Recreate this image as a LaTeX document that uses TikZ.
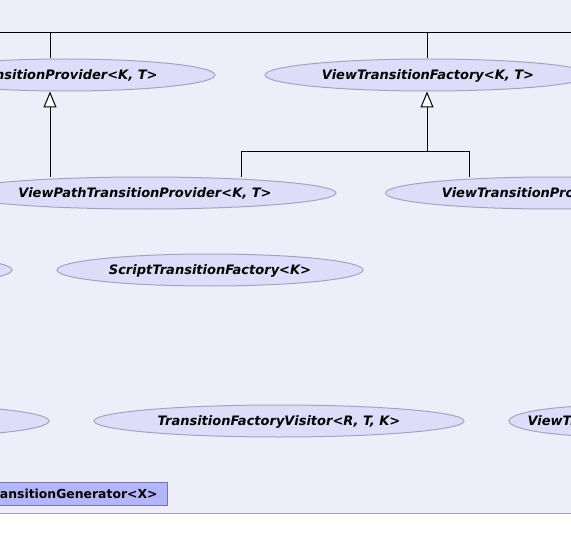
\documentclass[tikz,border=0pt]{standalone}
\usepackage{fontspec}
\setmainfont{DejaVu Sans}
\usepackage{tikz}
\usetikzlibrary{positioning, shapes, arrows.meta, calc}
\definecolor{pkg-bg}{RGB}{238,238,251}
\definecolor{pkg-line}{RGB}{165,165,185}
\definecolor{uc-fill}{RGB}{221,221,250}
\definecolor{uc-line}{RGB}{163,163,191}
\definecolor{cls-fill}{RGB}{181,181,249}
\definecolor{cls-line}{RGB}{118,118,168}

\begin{document}
\begin{tikzpicture}[x=1pt, y=-1pt, line width=1pt]
      \tikzset{ uc/.style  ={draw=uc-line,  ellipse,   minimum height=32pt, inner sep=0pt,  fill=uc-fill,  text=black, text height=9.4pt, text depth=0pt, font=\fontsize{13}{15}\selectfont\bfseries\itshape} }
      \tikzset{ lbl/.style ={               rectangle,                      inner sep=0pt,                  text=black, text height=9.4pt, text depth=0pt, font=\fontsize{13}{15}\selectfont\bfseries\itshape} }
      \tikzset{ cls/.style ={draw=cls-line, rectangle, minimum height=23pt, inner xsep=10pt, fill=cls-fill, text=black, text height=9pt,   text depth=0pt, font=\fontsize{12.4}{15}\selectfont\bfseries} }

      \useasboundingbox (0,0) rectangle (571,551);
      \clip (0,0) rectangle (571,551);
      \fill[pkg-bg] (0,0) rectangle (571,513);
      \draw[pkg-line] (0,513) -- (571,513);

      \node[uc, minimum width=300pt] (l0_n0)  at (  65,  75) {TransitionProvider<K, T>};
      \node[uc, minimum width=326pt] (l0_n1)  at ( 428,  75) {ViewTransitionFactory<K, T>};

      \node[uc, minimum width=382pt] (l1_n0)  at ( 145, 193) {ViewPathTransitionProvider<K, T>};
      \node[uc, minimum width=333pt] (l1_n1)  at ( 552, 193) {ViewTransitionProvider<K, T>};

      \node[uc, minimum width=300pt] (l2_n0)  at (-138, 270) {};
      \node[uc, minimum width=306pt] (l2_n1)  at ( 210, 270) {ScriptTransitionFactory<K>};

      \node[uc, minimum width=300pt] (l3_n0)  at (-101, 421) {};
      \node[uc, minimum width=370pt] (l3_n1)  at ( 279, 421) {TransitionFactoryVisitor<R, T, K>};
      \node[uc, minimum width=220pt] (l3_n2)  at ( 619, 421) {};
      \node[lbl, anchor=west]        (l3_t2)  at ( 527, 421) {ViewTransition};

      \node[cls, anchor=east]        (l4_n0)  at ( 168, 494) {TransitionGenerator<X>};

      \coordinate (bar_w) at (  0,  33);
      \coordinate (bar_e) at (571,  33);
      \coordinate (j0)    at ( 50,  33);
      \coordinate (j1)    at (427,  33);
      \coordinate (split) at (427, 151);

      \draw (bar_w) -- (bar_e);
      \draw (j0) -- (j0 |- l0_n0.north);
      \draw (j1) -- (j1 |- l0_n1.north);

      \draw[-{Triangle[length=16pt, width=13pt, fill=white]}] (j0 |- l1_n0.north) -- (j0 |- l0_n0.south);
      \draw[-{Triangle[length=16pt, width=13pt, fill=white]}] (split) -- (j1 |- l0_n1.south);
      \draw (split) -| ([xshift= 96pt]l1_n0.north);
      \draw (split) -| ([xshift=-83pt]l1_n1.north);
    \end{tikzpicture}
\end{document}
